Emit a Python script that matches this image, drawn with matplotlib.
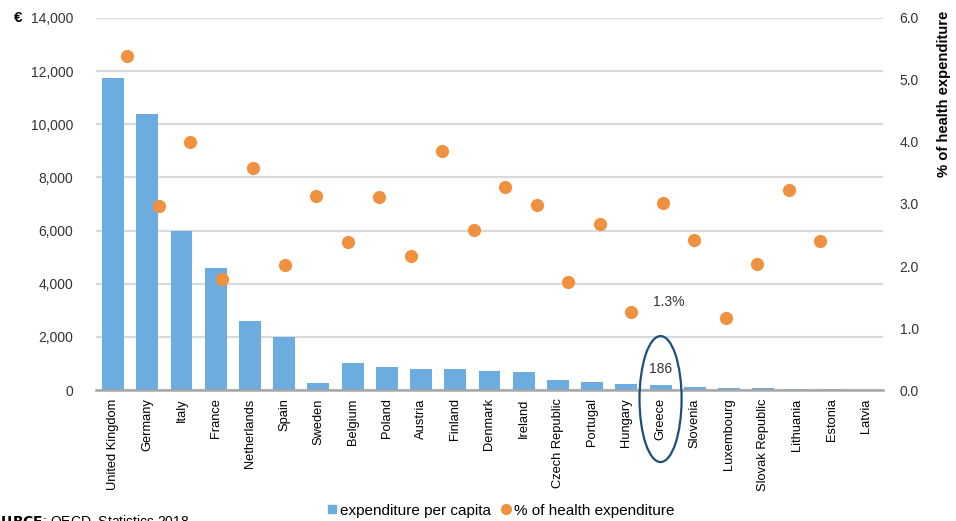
import matplotlib
matplotlib.use("Agg")
import matplotlib.pyplot as plt
from matplotlib.patches import Ellipse
from matplotlib.lines import Line2D
from matplotlib.ticker import FuncFormatter, FormatStrFormatter

# ---- data ----
countries = ["United Kingdom", "Germany", "Italy", "France", "Netherlands", "Spain",
             "Sweden", "Belgium", "Poland", "Austria", "Finland", "Denmark", "Ireland",
             "Czech Republic", "Portugal", "Hungary", "Greece", "Slovenia", "Luxembourg",
             "Slovak Republic", "Lithuania", "Estonia", "Latvia"]
per_capita = [11750, 10400, 6000, 4600, 2600, 2000, 280, 1000, 880, 790, 780, 730, 670,
              380, 290, 215, 186, 100, 75, 60, 30, 20, 15]
pct_health = [5.38, 2.97, 4.00, 1.79, 3.58, 2.02, 3.13, 2.38, 3.11, 2.16, 3.86, 2.58, 3.28,
              2.98, 1.75, 2.68, 1.26, 3.01, 2.42, 1.16, 2.04, 3.23, 2.40]

BLUE = "#6cacde"
ORANGE = "#f0913f"
GRID = "#d9d9d9"
TXT = "#333333"

plt.rcParams["font.family"] = ["Liberation Sans", "DejaVu Sans"]

fig = plt.figure(figsize=(9.56, 5.21), dpi=100)
ax = fig.add_axes([0.1004, 0.2514, 0.8232, 0.7141])

#==== bars (left axis) ====
x = list(range(len(countries)))
ax.bar(x, per_capita, width=0.64, color=BLUE, zorder=3)
ax.set_xlim(-0.5, len(countries) - 0.5)
ax.set_ylim(0, 14000)
ax.set_yticks(range(0, 14001, 2000))
ax.yaxis.set_major_formatter(FuncFormatter(lambda v, p: f"{int(v):,}"))
ax.set_xticks(x)
ax.set_xticklabels(countries, rotation=90, fontsize=9.3, color="black")
ax.tick_params(axis="y", length=0, labelsize=10, labelcolor=TXT, pad=16.5)
ax.tick_params(axis="x", length=0, pad=6)
ax.grid(axis="y", color=GRID, linewidth=1.6, zorder=0)
for s in ["top", "right", "left"]:
    ax.spines[s].set_visible(False)
ax.spines["bottom"].set_color("#a6a6a6")
ax.spines["bottom"].set_linewidth(1.8)
ax.spines["bottom"].set_zorder(4)

#==== dots on their own axes (offset category scale as in the original) ====
ax2 = ax.twinx()
ax3 = ax2.twiny()
ax3.scatter(x, pct_health, s=90, color=ORANGE, zorder=5, linewidths=0)
ax3.set_xlim(-1, 24)
ax3.set_ylim(0, 6)
ax3.set_xticks([])
ax2.set_ylim(0, 6)
ax2.set_yticks([0, 1, 2, 3, 4, 5, 6])
ax2.yaxis.set_major_formatter(FormatStrFormatter("%.1f"))
ax2.tick_params(axis="y", length=0, labelsize=10, labelcolor=TXT, pad=12)
for a in (ax2, ax3):
    for s in a.spines.values():
        s.set_visible(False)

#==== Greece annotation ====
gi = countries.index("Greece")
ax.text(gi, per_capita[gi] + 360, str(per_capita[gi]), ha="center", va="bottom",
        fontsize=10, color=TXT, zorder=6)
ax.text(gi + 0.25, 3330, "1.3%", ha="center", va="center", fontsize=10, color=TXT, zorder=6)
ax.add_patch(Ellipse((gi, -340), width=1.23, height=4740, fill=False,
                     edgecolor="#1f4e79", linewidth=1.6, clip_on=False, zorder=6))

#==== texts ====
fig.text(0.0146, 0.965, "€", fontsize=11, fontweight="bold", ha="left", va="center")
fig.text(0.987, 0.98, "% of health expenditure", rotation=90, fontsize=10.6,
         fontweight="bold", ha="center", va="top")
fig.text(-0.022, 0.0, r"$\mathbf{SOURCE}$: OECD, Statistics 2018", fontsize=10,
         ha="left", va="center", color="black")

handles = [Line2D([], [], marker="s", linestyle="none", color=BLUE, markersize=6),
           Line2D([], [], marker="o", linestyle="none", color=ORANGE, markersize=7)]
fig.legend(handles, ["expenditure per capita", "% of health expenditure"],
           loc="center", bbox_to_anchor=(0.523, 0.02), ncol=2, frameon=False,
           handletextpad=0.1, columnspacing=0.6, handlelength=0.8,
           prop={"family": ["Liberation Sans Narrow", "Liberation Sans"], "size": 11})

fig.savefig("out.png", dpi=100)
